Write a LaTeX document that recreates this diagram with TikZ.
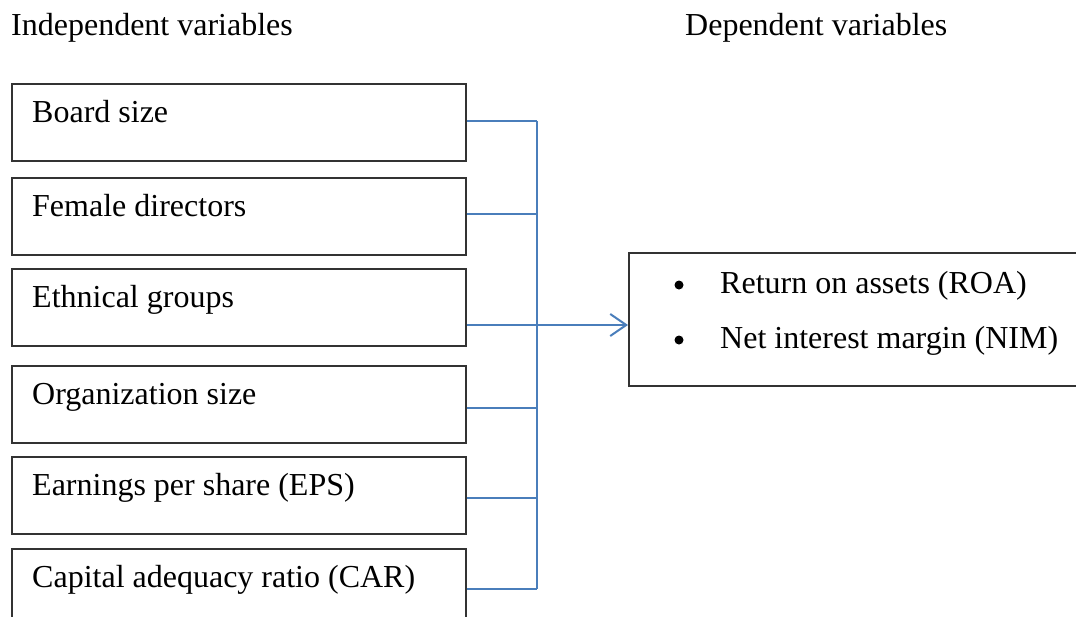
\documentclass[tikz,border=0pt]{standalone}
\usepackage{fontspec}
\setmainfont{Liberation Serif}
\usetikzlibrary{arrows.meta}
\begin{document}
\begin{tikzpicture}[x=1pt,y=-1pt,
  every node/.style={font=\fontsize{32}{38}\selectfont},
  varbox/.style={draw=black!80,line width=1.5pt,minimum width=454pt,minimum height=77pt,anchor=north west,inner sep=0pt},
  lbl/.style={anchor=base west,inner sep=0pt},
  dot/.style={circle,fill=black,inner sep=0pt,minimum size=9pt},
  conn/.style={draw={rgb,255:red,74;green,126;blue,187},line width=2pt}]
\useasboundingbox (0,0) rectangle (1076,616);
\node[lbl] (hin) at (11,35) {Independent variables};
\node[lbl] (hdep) at (685,35) {Dependent variables};
\foreach \i/\t/\y/\c in {1/Board size/83/121, 2/Female directors/177/214, 3/Ethnical groups/268/325, 4/Organization size/365/408, 5/Earnings per share (EPS)/456/498, 6/Capital adequacy ratio (CAR)/548/589}{
  \node[varbox] (b\i) at (11,\y) {};
  \node[lbl] (t\i) at (32,\y+39) {\t};
  \coordinate (bus\i) at (537,\c);
}
\node[draw=black!80,line width=1.5pt,anchor=north west,minimum width=470pt,minimum height=133pt,inner sep=0pt] (dep) at (628,252) {};
\node[dot] (d1) at (679,285) {};
\node[lbl] (r1) at (720,293) {Return on assets (ROA)};
\node[dot] (d2) at (679,340) {};
\node[lbl] (r2) at (720,348) {Net interest margin (NIM)};
\foreach \i in {1,...,6}{
  \draw[conn] (b\i.east |- bus\i) -- (bus\i);
}
\draw[conn] (bus1) -- (bus6);
\draw[conn,-{Straight Barb[length=16pt,width=22pt,line width=2pt]}] (bus3) -- (dep.west |- bus3);
\end{tikzpicture}
\end{document}
